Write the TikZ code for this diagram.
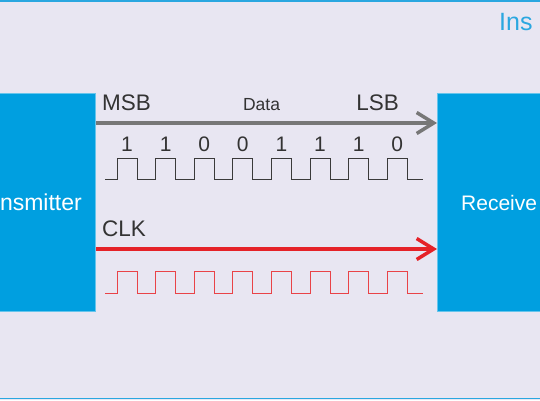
\documentclass[tikz,border=0pt]{standalone}
\usepackage{fontspec}
\setmainfont{Liberation Sans}
\usetikzlibrary{arrows.meta}
\definecolor{bg}{HTML}{E8E6F2}
\definecolor{boxblue}{HTML}{009FE0}
\definecolor{lineblue}{HTML}{2AA7E0}
\definecolor{datagray}{HTML}{777777}
\definecolor{wavegray}{HTML}{3A3A3A}
\definecolor{clkred}{HTML}{E52228}
\tikzset{
  unitbox/.style={fill=boxblue, draw=boxblue!60!white, line width=0.6pt},
  boxtext/.style={text=white, font=\fontsize{23}{23}\selectfont, inner sep=0pt},
  sig/.style={line width=3.5pt, -{Straight Barb[length=17pt,width=21pt,line width=3.5pt]}},
  lbl/.style={font=\fontsize{22.5}{22.5}\selectfont, text=black!80, inner sep=0pt, anchor=base west},
  bit/.style={font=\fontsize{21}{21}\selectfont, text=black!80, inner sep=0pt, anchor=base},
  wave/.style={line width=1pt, line join=miter}
}
\begin{document}
\begin{tikzpicture}[x=1pt,y=-1pt]
\path[use as bounding box, fill=bg] (0,0) rectangle (540,400);
\draw[lineblue, line width=1.6pt] (0,1.2) -- (540,1.2);
\draw[lineblue, line width=1.6pt] (0,398.5) -- (540,398.5);
\begin{scope}
\clip (0,0) rectangle (540,400);
\node[unitbox, minimum width=106pt, minimum height=218pt, inner sep=0pt, anchor=north east] (tx) at (96,93) {};
\node[unitbox, minimum width=110pt, minimum height=218pt, inner sep=0pt, anchor=north west] (rx) at (437,93) {};
\node[boxtext, anchor=base east] (txl) at (82,210) {nsmitter};
\node[boxtext, font=\fontsize{21}{21}\selectfont, anchor=base west] (rxl) at (461,210) {Receive};
\node[text=lineblue, font=\fontsize{25}{25}\selectfont, inner sep=0pt, anchor=base west] (ins) at (499,30) {Ins};
\end{scope}
\coordinate (d0) at (tx.east |- 0,123);
\coordinate (d1) at (rx.west |- 0,123);
\coordinate (c0) at (tx.east |- 0,249);
\coordinate (c1) at (rx.west |- 0,249);
\draw[sig, datagray] (d0) -- (d1);
\draw[sig, clkred] (c0) -- (c1);
\node[lbl] (msb) at (102,110) {MSB};
\node[lbl, anchor=base east] (lsb) at (399,110) {LSB};
\node[font=\fontsize{17.5}{17.5}\selectfont, text=black!80, inner sep=0pt, anchor=base] (data) at (261.5,110) {Data};
\node[lbl] (clk) at (102,236) {CLK};
\foreach \b [count=\i from 0] in {1,1,0,0,1,1,1,0}{
  \node[bit] (b\i) at ({127+38.6*\i},151.5) {\b};
}
\draw[wave, wavegray] (105,179)
  \foreach \i in {0,...,7}{ -- ({117+38.6*\i},179) -- ({117+38.6*\i},158) -- ({137+38.6*\i},158) -- ({137+38.6*\i},179) }
  -- (423,179);
\draw[wave, clkred!85!white, line width=1pt] (105,293)
  \foreach \i in {0,...,7}{ -- ({117+38.6*\i},293) -- ({117+38.6*\i},271) -- ({137+38.6*\i},271) -- ({137+38.6*\i},293) }
  -- (423,293);
\end{tikzpicture}
\end{document}
